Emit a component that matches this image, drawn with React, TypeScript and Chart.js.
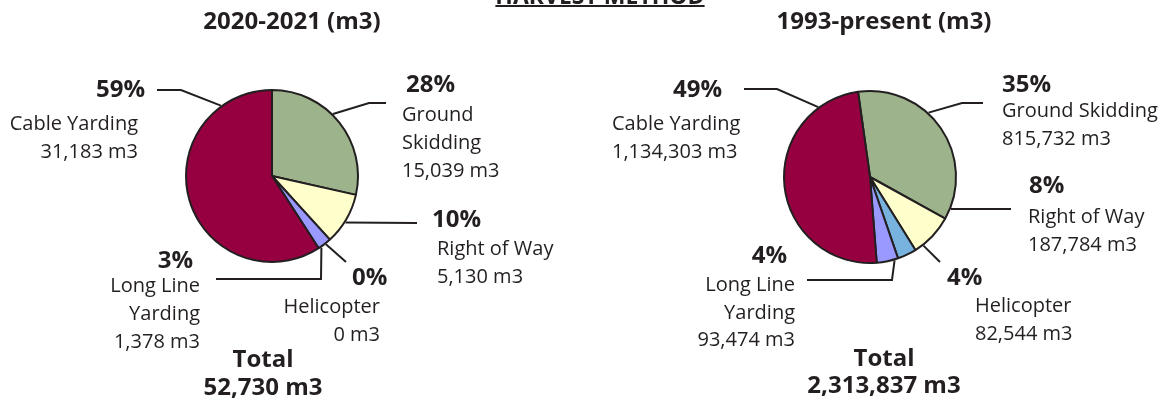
import React, { useEffect, useRef } from "react";
import { Chart, registerables } from "chart.js";

Chart.register(...registerables);

// ---------- data ----------
const categories = ["Ground Skidding", "Right of Way", "Helicopter", "Long Line Yarding", "Cable Yarding"];
const sliceColors = ["#9CB38B", "#FFFFCC", "#78B3DF", "#9999FF", "#960040"];

const recentTitle = "2020-2021 (m3)";
const recentValues = [15039, 5130, 0, 1378, 31183];
const recentPercentLabels = ["28%", "10%", "0%", "3%", "59%"];

const historicTitle = "1993-present (m3)";
const historicValues = [815732, 187784, 82544, 93474, 1134303];
const historicPercentLabels = ["35%", "8%", "4%", "4%", "49%"];

const mainTitle = "HARVEST METHOD";
const totalLabel = "Total";
const unit = "m3";

// ---------- layout (offsets relative to each pie's centre) ----------
type Pt = [number, number];
type LabelLayout = {
  angle: number; // leader start on the rim, degrees clockwise from 12 o'clock
  path: Pt[]; // elbow points of the leader, relative to centre
  pct: Pt;
  pctAlign: CanvasTextAlign;
  text: Pt; // baseline of first name line
  textAlign: CanvasTextAlign;
  lines: string[];
};

const INK = "#231F20";
const BOLD = "bold 24px 'Open Sans'";
const REG = "20px 'Open Sans'";

const recentLayout: LabelLayout[] = [
  { angle: 44.5, path: [[97, -73], [114, -73]], pct: [134, -84], pctAlign: "left", text: [130, -55], textAlign: "left", lines: ["Ground", "Skidding"] },
  { angle: 122.4, path: [[145, 47]], pct: [160, 51], pctAlign: "left", text: [165, 79], textAlign: "left", lines: ["Right of Way"] },
  { angle: 141.7, path: [[74, 86]], pct: [80, 109], pctAlign: "left", text: [108, 137], textAlign: "right", lines: ["Helicopter"] },
  { angle: 145.4, path: [[49, 103], [-56, 103]], pct: [-79, 92], pctAlign: "right", text: [-72, 116], textAlign: "right", lines: ["Long Line", "Yarding"] },
  { angle: 324, path: [[-91, -86], [-115, -86]], pct: [-127, -79], pctAlign: "right", text: [-134, -46], textAlign: "right", lines: ["Cable Yarding"] },
];

const historicLayout: LabelLayout[] = [
  { angle: 42.3, path: [[92, -74], [113, -74]], pct: [132, -85], pctAlign: "left", text: [132, -60], textAlign: "left", lines: ["Ground Skidding"] },
  { angle: 111.6, path: [[141, 32]], pct: [159, 16], pctAlign: "left", text: [158, 46], textAlign: "left", lines: ["Right of Way"] },
  { angle: 142.1, path: [[70, 85]], pct: [77, 108], pctAlign: "left", text: [105, 135], textAlign: "left", lines: ["Helicopter"] },
  { angle: 163.6, path: [[22, 103], [-63, 103]], pct: [-83, 86], pctAlign: "right", text: [-75, 114], textAlign: "right", lines: ["Long Line", "Yarding"] },
  { angle: 323.5, path: [[-93, -88], [-126, -88]], pct: [-148, -80], pctAlign: "right", text: [-258, -47], textAlign: "left", lines: ["Cable Yarding"] },
];

type PieCfg = {
  title: string;
  values: number[];
  pctLabels: string[];
  layout: LabelLayout[];
  rotation: number;
  padding: { left: number; right: number; top: number; bottom: number };
  titlePos: Pt;
  totalPos: Pt;
  totalGap: number;
  lineGap: number;
  drawMain: boolean;
};

const recentCfg: PieCfg = {
  title: recentTitle,
  values: recentValues,
  pctLabels: recentPercentLabels,
  layout: recentLayout,
  rotation: 0,
  padding: { left: 185, right: 808, top: 89, bottom: 139 },
  titlePos: [20, -147],
  totalPos: [-9, 191],
  totalGap: 28,
  lineGap: 28,
  drawMain: true,
};

const historicCfg: PieCfg = {
  title: historicTitle,
  values: historicValues,
  pctLabels: historicPercentLabels,
  layout: historicLayout,
  rotation: -8,
  padding: { left: 783, right: 210, top: 90, bottom: 138 },
  titlePos: [14, -148],
  totalPos: [14, 189],
  totalGap: 27,
  lineGap: 27.5,
  drawMain: false,
};

const fmt = (v: number) => `${v.toLocaleString("en-US")} ${unit}`;

function makeLabelPlugin(cfg: PieCfg) {
  return {
    id: "pieLabels",
    afterDraw(chart: any) {
      const ctx: CanvasRenderingContext2D = chart.ctx;
      const meta = chart.getDatasetMeta(0);
      const arc: any = meta.data[0];
      const cx = arc.x;
      const cy = arc.y;
      const R = arc.outerRadius + 1;
      ctx.save();
      ctx.fillStyle = INK;
      ctx.strokeStyle = INK;
      ctx.lineWidth = 2;
      ctx.lineJoin = "miter";
      ctx.textBaseline = "alphabetic";

      // leaders + labels
      cfg.layout.forEach((L, i) => {
        const a = (L.angle * Math.PI) / 180;
        ctx.beginPath();
        ctx.moveTo(cx + R * Math.sin(a), cy - R * Math.cos(a));
        L.path.forEach(([dx, dy]) => ctx.lineTo(cx + dx, cy + dy));
        ctx.stroke();

        ctx.font = BOLD;
        ctx.textAlign = L.pctAlign;
        ctx.fillText(cfg.pctLabels[i], cx + L.pct[0], cy + L.pct[1]);

        ctx.font = REG;
        ctx.textAlign = L.textAlign;
        const lines = [...L.lines, fmt(cfg.values[i])];
        lines.forEach((t, k) => {
          ctx.fillText(t, cx + L.text[0], Math.round(cy + L.text[1] + k * cfg.lineGap));
        });
      });

      // subtitle
      ctx.font = BOLD;
      ctx.textAlign = "center";
      ctx.fillText(cfg.title, cx + cfg.titlePos[0], cy + cfg.titlePos[1]);

      // total
      const total = cfg.values.reduce((s, v) => s + v, 0);
      ctx.fillText(totalLabel, cx + cfg.totalPos[0], cy + cfg.totalPos[1]);
      ctx.fillText(fmt(total), cx + cfg.totalPos[0], cy + cfg.totalPos[1] + cfg.totalGap);

      if (cfg.drawMain) {
        ctx.font = "bold 23px 'Open Sans'";
        ctx.textAlign = "center";
        const mx = 600;
        const my = 4;
        ctx.fillText(mainTitle, mx, my);
        const w = ctx.measureText(mainTitle).width;
        ctx.fillRect(mx - w / 2, my + 1, w, 2);
      }
      ctx.restore();
    },
  };
}

function buildChart(canvas: HTMLCanvasElement, cfg: PieCfg) {
  return new Chart(canvas, {
    type: "pie",
    data: {
      labels: categories,
      datasets: [
        {
          data: cfg.values,
          backgroundColor: sliceColors,
          borderColor: INK,
          borderWidth: 2,
        },
      ],
    },
    options: {
      responsive: false,
      animation: false,
      devicePixelRatio: 1,
      rotation: cfg.rotation,
      layout: { padding: cfg.padding },
      plugins: {
        legend: { display: false },
        tooltip: { enabled: false },
        title: { display: false },
      },
    } as any,
    plugins: [makeLabelPlugin(cfg)],
  });
}

export default function App() {
  const leftRef = useRef<HTMLCanvasElement>(null);
  const rightRef = useRef<HTMLCanvasElement>(null);

  useEffect(() => {
    const a = buildChart(leftRef.current!, recentCfg);
    const b = buildChart(rightRef.current!, historicCfg);
    return () => {
      a.destroy();
      b.destroy();
    };
  }, []);

  const cs: React.CSSProperties = { position: "absolute", left: 0, top: 0, width: 1167, height: 402 };
  return (
    <div style={{ position: "fixed", left: 0, top: 0, width: 1167, height: 402, background: "#fff", overflow: "hidden" }}>
      <canvas ref={leftRef} width={1167} height={402} style={cs} />
      <canvas ref={rightRef} width={1167} height={402} style={cs} />
    </div>
  );
}
